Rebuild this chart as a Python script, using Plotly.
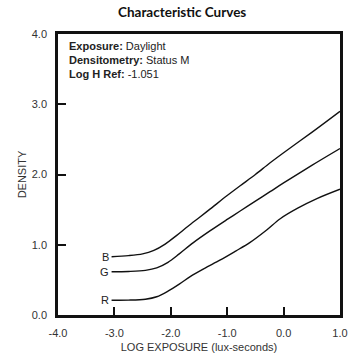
import plotly.graph_objects as go

# Data
b_x = [-3.05, -2.75, -2.5, -2.3, -2.1, -1.9, -1.7, -1.5, -1.3, -1.0, -0.77, -0.5, -0.25, 0.0, 0.5, 1.0]
b_y = [0.83, 0.845, 0.87, 0.92, 1.01, 1.13, 1.26, 1.385, 1.51, 1.70, 1.84, 2.00, 2.16, 2.31, 2.60, 2.90]

g_x = [-3.05, -2.75, -2.45, -2.25, -2.05, -1.85, -1.6, -1.3, -1.0, -0.77, -0.5, -0.24, 0.0, 0.5, 1.0]
g_y = [0.615, 0.62, 0.635, 0.67, 0.75, 0.87, 1.03, 1.20, 1.36, 1.48, 1.62, 1.755, 1.88, 2.13, 2.37]

r_x = [-3.05, -2.75, -2.45, -2.25, -2.05, -1.85, -1.65, -1.4, -1.13, -0.85, -0.6, -0.3, -0.06, 0.25, 0.6, 1.0]
r_y = [0.21, 0.212, 0.225, 0.26, 0.34, 0.44, 0.55, 0.665, 0.78, 0.91, 1.03, 1.21, 1.37, 1.52, 1.66, 1.79]

series_names = ["B", "G", "R"]
x_ticks = [-4.0, -3.0, -2.0, -1.0, 0.0, 1.0]
y_ticks = [0.0, 1.0, 2.0, 3.0, 4.0]
info_lines = ["<b>Exposure:</b> Daylight", "<b>Densitometry:</b> Status M", "<b>Log H Ref:</b> -1.051"]

FONT = "Liberation Sans, Arial, sans-serif"

fig = go.Figure()
for name, xs, ys in zip(series_names, [b_x, g_x, r_x], [b_y, g_y, r_y]):
    fig.add_trace(go.Scatter(x=xs, y=ys, mode="lines", name=name,
                             line=dict(color="#111111", width=1.4, shape="spline", smoothing=0.9),
                             showlegend=False, hoverinfo="skip"))
    fig.add_annotation(x=xs[0], y=ys[0], text=name, xref="x", yref="y",
                       xanchor="right", yanchor="middle", showarrow=False, xshift=-1,
                       font=dict(family=FONT, size=11, color="#222"))

for i, line in enumerate(info_lines):
    fig.add_annotation(x=0, y=1, xref="paper", yref="paper", xanchor="left", yanchor="middle",
                       xshift=9, yshift=-12 - 14 * i, showarrow=False, align="left",
                       text=line, font=dict(family=FONT, size=11, color="#222"))

fig.update_layout(
    width=360, height=364,
    margin=dict(l=58, r=20, t=34, b=49),
    paper_bgcolor="white", plot_bgcolor="white",
    title=dict(text="<b>Characteristic Curves</b>", x=0.506, xanchor="center", y=0.966, yanchor="middle",
               font=dict(family="Lato, sans-serif", size=13.5, color="#111")),
    xaxis=dict(range=[-4, 1], tickvals=x_ticks, ticktext=[f"{v:.1f}" for v in x_ticks],
               ticks="inside", ticklen=8, tickwidth=2, tickcolor="#111",
               showline=True, linecolor="#111", linewidth=2.5, mirror=True,
               showgrid=False, zeroline=False, ticklabelstandoff=6, automargin=False,
               tickfont=dict(family=FONT, size=11, color="#333"),
               title=dict(text="LOG EXPOSURE (lux-seconds)", standoff=6,
                          font=dict(family=FONT, size=11, color="#333"))),
    yaxis=dict(range=[0, 4], tickvals=y_ticks, ticktext=[f"{v:.1f}" for v in y_ticks],
               ticks="inside", ticklen=8, tickwidth=2, tickcolor="#111",
               showline=True, linecolor="#111", linewidth=2.5, mirror=True,
               showgrid=False, zeroline=False, ticklabelstandoff=6, automargin=False,
               tickfont=dict(family=FONT, size=11, color="#333"),
               title=dict(text="DENSITY", standoff=3,
                          font=dict(family=FONT, size=11, color="#333"))),
)

fig.write_html("out.html", config={"displayModeBar": False},
               post_script="document.body.style.margin='0';")
